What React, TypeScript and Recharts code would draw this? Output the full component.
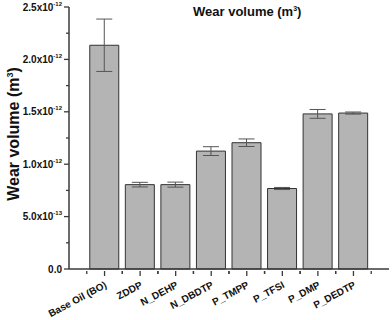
import { Bar, BarChart, ErrorBar, XAxis, YAxis } from 'recharts';
import type { JSX } from 'react';

// values in units of 1e-12 m^3
const categories = ['Base Oil (BO)', 'ZDDP', 'N_DEHP', 'N_DBDTP', 'P_TMPP', 'P_TFSI', 'P_DMP', 'P_DEDTP'];
const wearVolume = [2.135, 0.805, 0.805, 1.125, 1.205, 0.768, 1.48, 1.488];
const wearError = [0.25, 0.022, 0.024, 0.042, 0.036, 0.01, 0.042, 0.01];
const yTicks = [0, 0.25, 0.5, 0.75, 1, 1.25, 1.5, 1.75, 2, 2.25, 2.5];
const yTickLabels: Record<string, [string, string]> = {
  '0': ['0.0', ''],
  '0.5': ['5.0x10', '-13'],
  '1': ['1.0x10', '-12'],
  '1.5': ['1.5x10', '-12'],
  '2': ['2.0x10', '-12'],
  '2.5': ['2.5x10', '-12'],
};

const data = categories.map((name, i) => ({ name, value: wearVolume[i], err: wearError[i] }));

const FONT = '"Liberation Sans", Arial, sans-serif';
const AXIS = '#3a3a3a';
const PLOT_W = 320;
const BAND = PLOT_W / (categories.length + 1);

interface TickProps {
  x?: number;
  y?: number;
  payload?: { value?: string | number };
}

function YTick({ x = 0, y = 0, payload }: TickProps): JSX.Element {
  const label = yTickLabels[String(payload?.value)];
  return (
    <g>
      <line x1={x - (label ? 5 : 3)} x2={x} y1={y} y2={y} stroke={AXIS} strokeWidth={1.3} />
      {label ? (
        <text x={x - 7} y={y + 3.5} textAnchor="end" fontFamily={FONT} fontWeight="bold" fontSize={10} fill="#111">
          {label[0]}
          {label[1] ? <tspan fontSize={6} dy={-5}>{label[1]}</tspan> : null}
        </text>
      ) : null}
    </g>
  );
}

function XTick({ x = 0, y = 0, payload }: TickProps): JSX.Element {
  const tx = x + 3;
  const ty = y + 16;
  return (
    <g>
      <line x1={x} x2={x} y1={y} y2={y + 5} stroke={AXIS} strokeWidth={1.3} />
      <line x1={x - BAND / 2} x2={x - BAND / 2} y1={y} y2={y + 3} stroke={AXIS} strokeWidth={1.3} />
      <line x1={x + BAND / 2} x2={x + BAND / 2} y1={y} y2={y + 3} stroke={AXIS} strokeWidth={1.3} />
      <text
        x={tx}
        y={ty}
        textAnchor="end"
        transform={`rotate(-28 ${tx} ${ty})`}
        fontFamily={FONT}
        fontWeight="bold"
        fontSize={10}
        fill="#111"
      >
        {payload?.value}
      </text>
    </g>
  );
}

export default function App(): JSX.Element {
  return (
    <div style={{ position: 'absolute', left: 0, top: 0, width: 392, height: 320, background: '#fff' }}>
      <BarChart width={392} height={320} data={data} margin={{ top: 7, right: 3, bottom: 0, left: 0 }}>
        <XAxis
          dataKey="name"
          interval={0}
          height={51}
          padding={{ left: BAND / 2, right: BAND / 2 }}
          stroke={AXIS}
          strokeWidth={1.5}
          tickLine={false}
          tickSize={0}
          tick={<XTick />}
        />
        <YAxis
          type="number"
          domain={[0, 2.5]}
          ticks={yTicks}
          interval={0}
          width={69}
          stroke={AXIS}
          strokeWidth={1.5}
          tickLine={false}
          tickSize={0}
          tickMargin={0}
          tick={<YTick />}
        />
        <Bar dataKey="value" barSize={29} fill="#b4b4b4" stroke="#333" strokeWidth={1} isAnimationActive={false}>
          <ErrorBar dataKey="err" width={8} stroke="#555" strokeWidth={1} />
        </Bar>
      </BarChart>
      <div
        style={{
          position: 'absolute',
          left: 193,
          top: 4,
          fontFamily: FONT,
          fontWeight: 'bold',
          fontSize: 13,
          color: '#111',
          whiteSpace: 'nowrap',
        }}
      >
        Wear volume (m<sup style={{ fontSize: 7 }}>3</sup>)
      </div>
      <div
        style={{
          position: 'absolute',
          left: 14,
          top: 134,
          transform: 'translate(-50%, -50%) rotate(-90deg)',
          fontFamily: FONT,
          fontWeight: 'bold',
          fontSize: 16,
          color: '#111',
          whiteSpace: 'nowrap',
        }}
      >
        Wear volume (m<sup style={{ fontSize: 9 }}>3</sup>)
      </div>
    </div>
  );
}
